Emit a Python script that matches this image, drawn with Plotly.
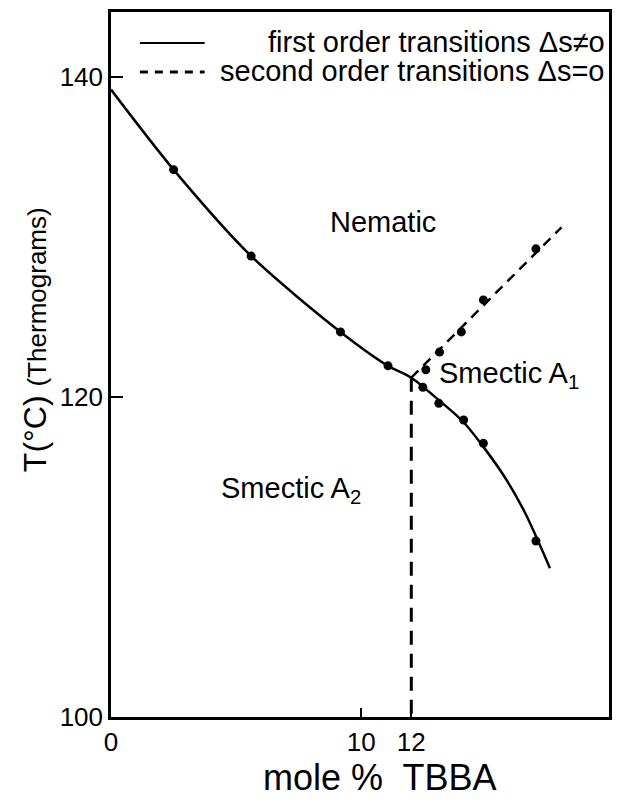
import plotly.graph_objects as go

# Measured transition temperatures (thermograms)
nematic_x = [2.5, 5.6, 9.17, 11.07]
nematic_T = [134.2, 128.8, 124.06, 121.94]

smA2_x = [12.46, 13.1, 14.09, 14.88, 16.98]
smA2_T = [120.6, 119.6, 118.56, 117.1, 111.0]

smA1_x = [12.58, 13.13, 14.0, 14.88, 16.98]
smA1_T = [121.7, 122.8, 124.06, 126.06, 129.25]

# Hand-drawn phase boundaries
first_order_x = [0.0, 2.5, 5.6, 9.17, 11.07, 12.0, 13.1, 14.1, 15.56, 16.5, 17.54]
first_order_T = [139.2, 134.2, 128.8, 124.06, 121.94, 121.2, 119.8, 118.4, 115.4, 112.9, 109.3]

second_order_x = [12.0, 18.0]
second_order_T = [121.2, 130.6]

vertical_x = [12.0, 12.0]
vertical_T = [121.2, 100.0]

x_ticks = [0, 10, 12]
y_ticks = [100, 120, 140]

FONT = "Liberation Sans, Arial, sans-serif"

fig = go.Figure()

fig.add_trace(go.Scatter(x=first_order_x, y=first_order_T, mode="lines",
                         line=dict(color="black", width=2.5, shape="spline", smoothing=0.8),
                         hoverinfo="skip"))
fig.add_trace(go.Scatter(x=second_order_x, y=second_order_T, mode="lines",
                         line=dict(color="black", width=2.5, dash="10px,7px"),
                         hoverinfo="skip"))
fig.add_trace(go.Scatter(x=vertical_x, y=vertical_T, mode="lines",
                         line=dict(color="black", width=3, dash="14px,9px"),
                         hoverinfo="skip"))
for xs, ts in [(nematic_x, nematic_T), (smA2_x, smA2_T), (smA1_x, smA1_T)]:
    fig.add_trace(go.Scatter(x=xs, y=ts, mode="markers",
                             marker=dict(color="black", size=9)))

label_font = dict(family=FONT, size=29, color="black")

fig.add_annotation(x=10.85, y=130.9, text="Nematic", showarrow=False, font=label_font)
fig.add_annotation(x=15.9, y=121.4, text="Smectic A<sub>1</sub>", showarrow=False,
                   font=label_font)
fig.add_annotation(x=7.2, y=114.2, text="Smectic A<sub>2</sub>", showarrow=False,
                   font=label_font)

# Legend drawn in the top part of the frame
legend_font = dict(family=FONT, size=29, color="black")
fig.add_shape(type="line", xref="paper", yref="paper", x0=0.058, x1=0.188, y0=0.956, y1=0.956,
              line=dict(color="black", width=2))
fig.add_shape(type="line", xref="paper", yref="paper", x0=0.058, x1=0.188, y0=0.915, y1=0.915,
              line=dict(color="black", width=3, dash="8px,7px"))
fig.add_annotation(xref="paper", yref="paper", x=0.995, y=0.958, xanchor="right",
                   yanchor="middle", text="first order transitions Δs≠o", showarrow=False,
                   font=legend_font)
fig.add_annotation(xref="paper", yref="paper", x=0.995, y=0.917, xanchor="right",
                   yanchor="middle", text="second order transitions Δs=o", showarrow=False,
                   font=legend_font)

# Axis titles
fig.add_annotation(xref="paper", yref="paper", x=-0.152, y=0.535, textangle=-90,
                   xanchor="center", yanchor="middle",
                   text="T(°C) <span style='font-size:26px'>(Thermograms)</span>",
                   showarrow=False, font=dict(family=FONT, size=32, color="black"))
fig.add_annotation(xref="paper", yref="paper", x=0.54, y=-0.086, yanchor="middle",
                   text="mole %  TBBA", showarrow=False,
                   font=dict(family=FONT, size=36, color="black"))

axis_common = dict(showgrid=False, zeroline=False, showline=True, linecolor="black",
                   linewidth=2.5, mirror=True, ticks="inside", tickcolor="black",
                   tickwidth=2)

fig.update_xaxes(range=[0, 19.9], tickvals=x_ticks, ticktext=[str(v) for v in x_ticks],
                 ticklen=9, tickfont=dict(family=FONT, size=26, color="black"),
                 **axis_common)
fig.update_yaxes(range=[100, 144.05], tickvals=y_ticks, ticktext=[str(v) for v in y_ticks],
                 ticklen=12, tickfont=dict(family=FONT, size=26, color="black"),
                 **axis_common)

fig.update_layout(width=617, height=801, showlegend=False,
                  margin=dict(l=111, r=5, t=12, b=84),
                  plot_bgcolor="white", paper_bgcolor="white")

fig.write_html("out.html")
